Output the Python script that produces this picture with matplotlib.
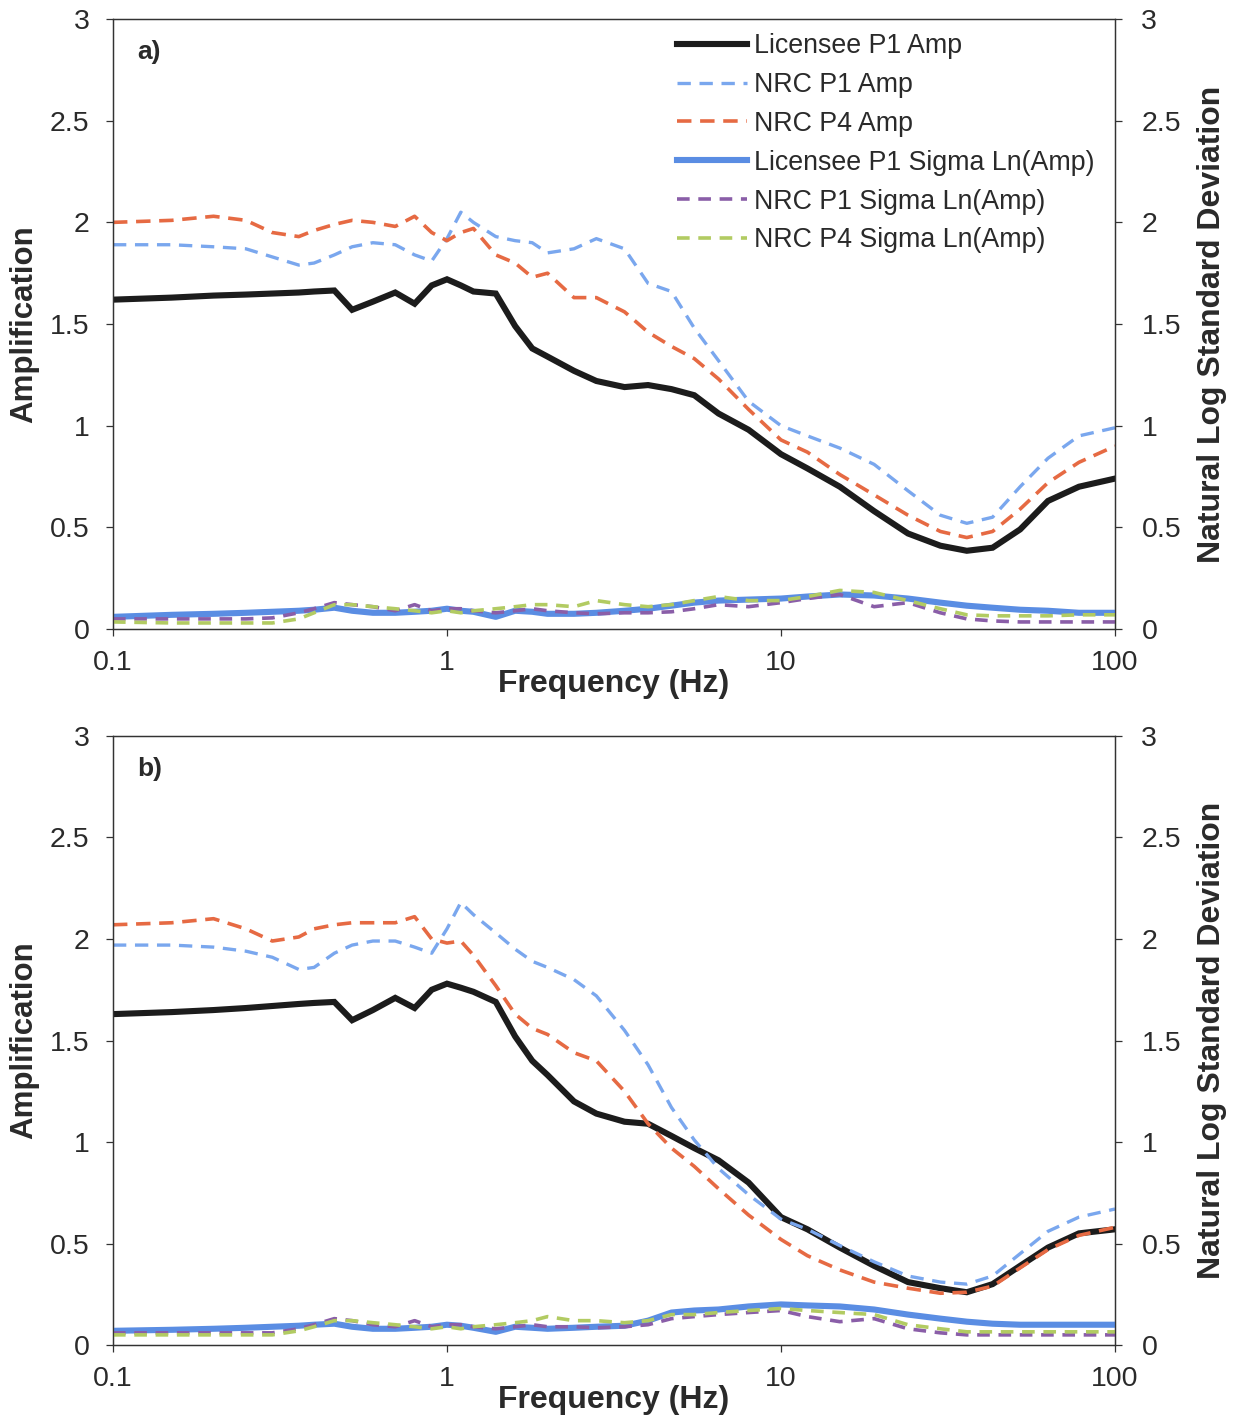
import matplotlib
matplotlib.use("Agg")
import matplotlib.pyplot as plt
from matplotlib.ticker import FixedLocator, NullLocator

plt.rcParams['font.family'] = ['Liberation Sans', 'DejaVu Sans']

# frequency grid (Hz), shared by all curves
freq = [0.1, 0.15, 0.2, 0.25, 0.3, 0.36, 0.4, 0.46, 0.52, 0.6,
        0.7, 0.8, 0.9, 1.0, 1.1, 1.2, 1.4, 1.6, 1.8, 2.0,
        2.4, 2.8, 3.4, 4.0, 4.7, 5.5, 6.5, 8, 10, 12,
        15, 19, 24, 30, 36, 43, 52, 63, 78, 100]

# panel a) amplification
lic_amp_a = [1.62, 1.63, 1.64, 1.645, 1.65, 1.655, 1.66, 1.665, 1.57, 1.61,
             1.655, 1.60, 1.69, 1.72, 1.69, 1.66, 1.65, 1.49, 1.38, 1.34,
             1.27, 1.22, 1.19, 1.20, 1.18, 1.15, 1.06, 0.98, 0.86, 0.79,
             0.70, 0.58, 0.47, 0.41, 0.385, 0.40, 0.49, 0.63, 0.70, 0.74]
nrc_p1_amp_a = [1.89, 1.89, 1.88, 1.87, 1.83, 1.79, 1.80, 1.84, 1.88, 1.90,
                1.89, 1.84, 1.81, 1.92, 2.05, 2.00, 1.93, 1.91, 1.90, 1.85,
                1.87, 1.92, 1.87, 1.70, 1.66, 1.48, 1.32, 1.12, 1.00, 0.95,
                0.89, 0.81, 0.68, 0.56, 0.52, 0.55, 0.70, 0.84, 0.95, 0.99]
nrc_p4_amp_a = [2.00, 2.01, 2.03, 2.01, 1.95, 1.93, 1.96, 1.99, 2.01, 2.00,
                1.98, 2.03, 1.95, 1.91, 1.95, 1.97, 1.84, 1.80, 1.73, 1.75,
                1.63, 1.63, 1.56, 1.46, 1.39, 1.33, 1.23, 1.08, 0.93, 0.87,
                0.76, 0.66, 0.56, 0.48, 0.45, 0.48, 0.59, 0.72, 0.82, 0.90]

# panel a) sigma ln(amp)
lic_sig_a = [0.06, 0.07, 0.075, 0.08, 0.085, 0.09, 0.095, 0.105, 0.09, 0.08,
             0.08, 0.085, 0.09, 0.10, 0.09, 0.085, 0.06, 0.09, 0.085, 0.075,
             0.075, 0.08, 0.09, 0.10, 0.115, 0.13, 0.14, 0.145, 0.15, 0.16,
             0.17, 0.165, 0.15, 0.13, 0.115, 0.105, 0.095, 0.09, 0.08, 0.08]
nrc_p1_sig_a = [0.05, 0.05, 0.05, 0.05, 0.055, 0.08, 0.10, 0.13, 0.12, 0.11,
                0.09, 0.12, 0.09, 0.10, 0.10, 0.09, 0.08, 0.09, 0.10, 0.09,
                0.08, 0.075, 0.08, 0.08, 0.085, 0.10, 0.12, 0.11, 0.13, 0.15,
                0.17, 0.11, 0.13, 0.08, 0.05, 0.04, 0.035, 0.035, 0.035, 0.035]
nrc_p4_sig_a = [0.035, 0.03, 0.03, 0.03, 0.03, 0.05, 0.08, 0.12, 0.12, 0.11,
                0.10, 0.09, 0.08, 0.09, 0.08, 0.09, 0.10, 0.11, 0.12, 0.12,
                0.11, 0.14, 0.12, 0.11, 0.12, 0.14, 0.16, 0.14, 0.14, 0.16,
                0.19, 0.18, 0.14, 0.10, 0.07, 0.065, 0.065, 0.065, 0.07, 0.07]

# panel b) amplification
lic_amp_b = [1.63, 1.64, 1.65, 1.66, 1.67, 1.68, 1.685, 1.69, 1.60, 1.65,
             1.71, 1.66, 1.75, 1.78, 1.76, 1.74, 1.69, 1.52, 1.40, 1.33,
             1.20, 1.14, 1.10, 1.09, 1.03, 0.97, 0.91, 0.80, 0.63, 0.57,
             0.48, 0.39, 0.31, 0.28, 0.26, 0.30, 0.39, 0.48, 0.55, 0.57]
nrc_p1_amp_b = [1.97, 1.97, 1.96, 1.94, 1.91, 1.85, 1.86, 1.93, 1.97, 1.99,
                1.99, 1.96, 1.93, 2.05, 2.18, 2.12, 2.03, 1.95, 1.89, 1.86,
                1.80, 1.72, 1.55, 1.38, 1.17, 1.01, 0.87, 0.74, 0.62, 0.57,
                0.49, 0.41, 0.34, 0.31, 0.30, 0.34, 0.45, 0.56, 0.63, 0.67]
nrc_p4_amp_b = [2.07, 2.08, 2.10, 2.05, 1.99, 2.01, 2.05, 2.07, 2.08, 2.08,
                2.08, 2.11, 2.00, 1.98, 1.99, 1.92, 1.77, 1.63, 1.56, 1.53,
                1.44, 1.40, 1.25, 1.09, 0.97, 0.88, 0.77, 0.64, 0.52, 0.44,
                0.37, 0.31, 0.28, 0.255, 0.26, 0.29, 0.38, 0.47, 0.54, 0.58]

# panel b) sigma ln(amp)
lic_sig_b = [0.07, 0.075, 0.08, 0.085, 0.09, 0.095, 0.10, 0.105, 0.09, 0.08,
             0.08, 0.085, 0.09, 0.10, 0.095, 0.085, 0.065, 0.09, 0.085, 0.08,
             0.085, 0.09, 0.095, 0.12, 0.16, 0.17, 0.175, 0.19, 0.20, 0.195,
             0.19, 0.175, 0.15, 0.13, 0.115, 0.105, 0.10, 0.10, 0.10, 0.10]
nrc_p1_sig_b = [0.06, 0.06, 0.06, 0.06, 0.06, 0.08, 0.10, 0.13, 0.12, 0.10,
                0.09, 0.12, 0.09, 0.10, 0.10, 0.09, 0.08, 0.09, 0.10, 0.09,
                0.09, 0.085, 0.09, 0.10, 0.13, 0.14, 0.15, 0.16, 0.17, 0.14,
                0.115, 0.13, 0.08, 0.06, 0.05, 0.05, 0.05, 0.05, 0.05, 0.05]
nrc_p4_sig_b = [0.05, 0.05, 0.05, 0.05, 0.05, 0.07, 0.09, 0.12, 0.12, 0.11,
                0.10, 0.09, 0.08, 0.09, 0.08, 0.09, 0.10, 0.11, 0.12, 0.14,
                0.12, 0.12, 0.11, 0.12, 0.15, 0.15, 0.16, 0.17, 0.18, 0.17,
                0.16, 0.15, 0.10, 0.08, 0.065, 0.065, 0.065, 0.065, 0.065, 0.065]

series_names = ['Licensee P1 Amp', 'NRC P1 Amp', 'NRC P4 Amp',
                'Licensee P1 Sigma Ln(Amp)', 'NRC P1 Sigma Ln(Amp)',
                'NRC P4 Sigma Ln(Amp)']
x_ticks = [0.1, 1, 10, 100]
x_ticklabels = ['0.1', '1', '10', '100']
y_ticks = [0, 0.5, 1, 1.5, 2, 2.5, 3]
y_ticklabels = ['0', '0.5', '1', '1.5', '2', '2.5', '3']

BLACK = '#1c1c1c'
BLUE_D = '#7aa7ee'
ORANGE = '#e66a43'
BLUE_S = '#5a8de3'
PURPLE = '#8a5ea8'
GREEN = '#b2cb62'
TXT = '#2a2a2a'


def draw_panel(ax, amps, sigs, tag, legend=False):
    lic, p1, p4 = amps
    s_lic, s_p1, s_p4 = sigs
    ax2 = ax.twinx()

    h1, = ax.plot(freq, lic, color=BLACK, lw=4.4, solid_joinstyle='miter')
    h2, = ax.plot(freq, p1, color=BLUE_D, lw=2.4, dashes=(4, 2.6))
    h3, = ax.plot(freq, p4, color=ORANGE, lw=2.6, dashes=(4, 2.4))
    h4, = ax2.plot(freq, s_lic, color=BLUE_S, lw=4.4)
    h5, = ax2.plot(freq, s_p1, color=PURPLE, lw=2.6, dashes=(3.5, 2.4))
    h6, = ax2.plot(freq, s_p4, color=GREEN, lw=2.6, dashes=(3.5, 2.4))

    for a in (ax, ax2):
        a.set_xscale('log')
        a.set_xlim(0.1, 100)
        a.set_ylim(0, 3)
        a.yaxis.set_major_locator(FixedLocator(y_ticks))
        a.set_yticklabels(y_ticklabels)
        for sp in a.spines.values():
            sp.set_linewidth(0.9)
            sp.set_color('#333333')
    ax.xaxis.set_major_locator(FixedLocator(x_ticks))
    ax.xaxis.set_minor_locator(NullLocator())
    ax.set_xticklabels(x_ticklabels)
    ax.tick_params(axis='y', labelsize=20.5, length=5, width=0.9,
                   color='#333333', labelcolor=TXT, pad=12)
    ax.tick_params(axis='x', labelsize=20.5, length=5, width=0.9,
                   color='#333333', labelcolor=TXT, pad=10)
    ax2.tick_params(axis='y', labelsize=20.5, length=5, width=0.9,
                    color='#333333', labelcolor=TXT, pad=14)

    ax.set_xlabel('Frequency (Hz)', fontsize=23, fontweight='bold', color=TXT)
    ax.xaxis.set_label_coords(0.5, -0.066)
    ax.set_ylabel('Amplification', fontsize=22.5, fontweight='bold', color=TXT)
    ax.yaxis.set_label_coords(-0.074, 0.5)
    ax2.set_ylabel('Natural Log Standard Deviation', fontsize=23,
                   fontweight='bold', color=TXT, rotation=90)
    ax2.yaxis.set_label_coords(1.082, 0.5)

    ax.text(0.024, 0.946, tag, transform=ax.transAxes, fontsize=19,
            fontweight='bold', color=TXT, va='center', ha='left')

    if legend:
        ax2.legend([h1, h2, h3, h4, h5, h6], series_names,
                   loc='upper left', bbox_to_anchor=(0.563, 0.977),
                   frameon=False, fontsize=19.3, handlelength=2.6,
                   handletextpad=0.25, labelspacing=0.48, borderpad=0,
                   borderaxespad=0, labelcolor=TXT)


fig = plt.figure(figsize=(12.36, 14.2), dpi=100)
ax_a = fig.add_axes([0.0914, 0.557, 0.8107, 0.4296])
ax_b = fig.add_axes([0.0914, 0.0528, 0.8107, 0.4289])

draw_panel(ax_a, (lic_amp_a, nrc_p1_amp_a, nrc_p4_amp_a),
           (lic_sig_a, nrc_p1_sig_a, nrc_p4_sig_a), 'a)', legend=True)
draw_panel(ax_b, (lic_amp_b, nrc_p1_amp_b, nrc_p4_amp_b),
           (lic_sig_b, nrc_p1_sig_b, nrc_p4_sig_b), 'b)')

fig.savefig('out.png', dpi=100)
